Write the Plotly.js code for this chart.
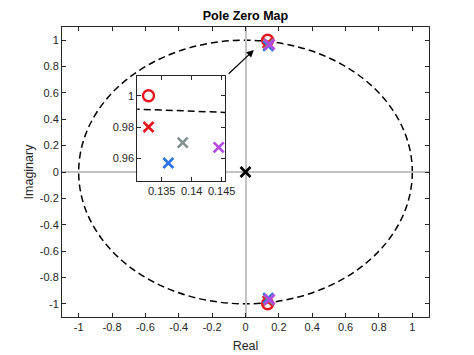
<!DOCTYPE html>
<html>
<head>
<meta charset="utf-8">
<script src="https://cdn.plot.ly/plotly-3.0.1.min.js"></script>
<style>html,body{margin:0;padding:0;background:#fff;}#chart{width:474px;height:355px;}</style>
</head>
<body>
<div id="chart"></div>
<script>
// ---- data ----
const zeroRe = [0.1328, 0.1328];
const zeroIm = [1.0, -1.0];
const redPoleRe = [0.1328, 0.1328];
const redPoleIm = [0.980, -0.980];
const bluePoleRe = [0.1361, 0.1361];
const bluePoleIm = [0.957, -0.957];
const greyPoleRe = [0.1385, 0.1385];
const greyPoleIm = [0.970, -0.970];
const purplePoleRe = [0.1445, 0.1445];
const purplePoleIm = [0.967, -0.967];
const blackPoleRe = [0];
const blackPoleIm = [0];

const mainTicks = [-1, -0.8, -0.6, -0.4, -0.2, 0, 0.2, 0.4, 0.6, 0.8, 1];
const mainTickText = ['-1', '-0.8', '-0.6', '-0.4', '-0.2', '0', '0.2', '0.4', '0.6', '0.8', '1'];
const insetXTicks = [0.135, 0.14, 0.145];
const insetXText = ['0.135', '0.14', '0.145'];
const insetYTicks = [0.96, 0.98, 1];
const insetYText = ['0.96', '0.98', '1'];

const colors = {red: '#e8141c', blue: '#2a74e6', grey: '#829090', purple: '#b448e6', black: '#000000'};

function xTrace(re, im, color, xa, ya) {
  return {x: re, y: im, xaxis: xa, yaxis: ya, type: 'scatter', mode: 'markers', hoverinfo: 'skip',
    marker: {symbol: 'x-thin-open', size: 10, color: color, line: {color: color, width: 2.6}}};
}
function oTrace(re, im, color, xa, ya) {
  return {x: re, y: im, xaxis: xa, yaxis: ya, type: 'scatter', mode: 'markers', hoverinfo: 'skip',
    marker: {symbol: 'circle-open', size: 11, color: color, line: {color: color, width: 2.4}}};
}

const traces = [];
[['x', 'y'], ['x2', 'y2']].forEach(([xa, ya]) => {
  traces.push(oTrace(zeroRe, zeroIm, colors.red, xa, ya));
  traces.push(xTrace(redPoleRe, redPoleIm, colors.red, xa, ya));
  traces.push(xTrace(bluePoleRe, bluePoleIm, colors.blue, xa, ya));
  traces.push(xTrace(greyPoleRe, greyPoleIm, colors.grey, xa, ya));
  traces.push(xTrace(purplePoleRe, purplePoleIm, colors.purple, xa, ya));
  traces.push(xTrace(blackPoleRe, blackPoleIm, colors.black, xa, ya));
});

const axColor = '#262626';
const font = {family: 'Liberation Sans, Arial, sans-serif', size: 11, color: axColor};
const baseAxis = {showline: true, linecolor: axColor, linewidth: 1, mirror: 'ticks', ticks: 'inside',
  ticklen: 4, tickcolor: axColor, showgrid: false, tickfont: font, fixedrange: true};

const layout = {
  width: 474, height: 355,
  margin: {l: 62, r: 45, t: 27, b: 38, pad: 0},
  paper_bgcolor: '#ffffff', plot_bgcolor: '#ffffff',
  showlegend: false,
  font: font,
  title: {text: '<b>Pole Zero Map</b>', font: {family: 'Liberation Sans, Arial, sans-serif', size: 12.5, color: '#000'},
    x: 0.5, xref: 'paper', xanchor: 'center', y: 1 - 16 / 355, yref: 'container', yanchor: 'middle'},
  xaxis: Object.assign({}, baseAxis, {range: [-1.1, 1.1], tickvals: mainTicks, ticktext: mainTickText,
    zeroline: true, zerolinecolor: '#c2c2c2', zerolinewidth: 2,
    title: {text: 'Real', font: {family: 'Liberation Sans, Arial, sans-serif', size: 12.5, color: axColor}, standoff: 9}}),
  yaxis: Object.assign({}, baseAxis, {range: [-1.1, 1.1], tickvals: mainTicks, ticktext: mainTickText,
    zeroline: true, zerolinecolor: '#c2c2c2', zerolinewidth: 2,
    title: {text: 'Imaginary', font: {family: 'Liberation Sans, Arial, sans-serif', size: 12.5, color: axColor}, standoff: 3}}),
  xaxis2: Object.assign({}, baseAxis, {domain: [0.2052, 0.4441], anchor: 'y2', range: [0.13093, 0.14555],
    tickvals: insetXTicks, ticktext: insetXText, zeroline: false}),
  yaxis2: Object.assign({}, baseAxis, {domain: [0.469, 0.832], anchor: 'x2', range: [0.9455, 1.0128],
    tickvals: insetYTicks, ticktext: insetYText, zeroline: false}),
  shapes: [
    {type: 'circle', xref: 'x', yref: 'y', x0: -1, x1: 1, y0: -1, y1: 1, layer: 'below',
      line: {color: '#000', width: 1.5, dash: '7px,4px'}},
    {type: 'circle', xref: 'x2', yref: 'y2', x0: -1, x1: 1, y0: -1, y1: 1, layer: 'below',
      line: {color: '#000', width: 1.5, dash: '7px,4px'}}
  ],
  annotations: [
    {xref: 'x', yref: 'y', axref: 'x', ayref: 'y', x: 0.05, y: 0.925, ax: -0.11, ay: 0.735,
      text: '', showarrow: true, arrowhead: 2, arrowsize: 1.2, arrowwidth: 1.2, arrowcolor: '#000', standoff: 0}
  ]
};

Plotly.newPlot('chart', traces, layout, {staticPlot: true, displayModeBar: false});
</script>
</body>
</html>
